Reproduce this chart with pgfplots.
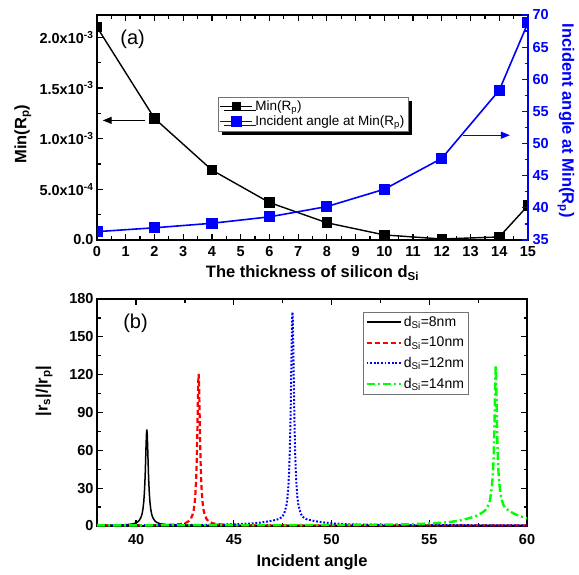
\documentclass[border=0pt]{standalone}
\usepackage{pgfplots}
\pgfplotsset{compat=1.18}
\usepackage{fontspec}
\setmainfont{Liberation Sans}
\usetikzlibrary{arrows.meta,shadows}
\definecolor{lgreen}{RGB}{0,255,0}

\begin{document}
\begin{tikzpicture}
\useasboundingbox (0pt,0pt) rectangle (579pt,574pt);
\pgfplotsset{
  every axis/.append style={
    scale only axis,
    tick align=inside,
    major tick length=6pt, minor tick length=3.5pt,
    tick label style={font=\fontsize{14.5}{14.5}\selectfont\bfseries},
    label style={font=\fontsize{16.5}{16.5}\selectfont\bfseries},
    /pgf/number format/assume math mode=true,
    axis line style={line width=1.7pt},
  }
}
% ---------- panel (a), left axis ----------
\begin{axis}[at={(97pt,334pt)}, anchor=south west, width=431pt, height=225pt,
  xmin=0, xmax=15, ymin=0, ymax=0.00222,
  xtick={0,1,...,15}, minor x tick num=1,
  ytick={0,0.0005,0.001,0.0015,0.002},
  yticklabels={0.0, 5.0x10\textsuperscript{-4}, 1.0x10\textsuperscript{-3}, 1.5x10\textsuperscript{-3}, 2.0x10\textsuperscript{-3}},
  minor y tick num=1, scaled y ticks=false,
  ytick pos=left, xtick pos=both, xticklabel pos=lower,
  xticklabel style={yshift=-3pt},
  every tick/.style={black, line width=1.2pt},
  clip marker paths=true,
  xlabel={The thickness of silicon d\textsubscript{Si}},
  ylabel={Min(R\textsubscript{p})},
  xlabel style={at={(axis description cs:0.5,-0.148)}, anchor=center},
  ylabel style={at={(axis description cs:-0.172,0.47)}, anchor=center},
]
\addplot[black, line width=1.4pt, mark=square*, mark size=4.6pt] coordinates {
 (0,0.00210) (2,0.00120) (4,0.00069) (6,0.00037) (8,0.00017) (10,0.00005) (12,0.00001) (14,0.00003) (15,0.00034)};
\draw[black, line width=1.2pt, -{Triangle[length=9pt,width=7pt]}] (axis cs:1.67,0.00118) -- (axis cs:0.2,0.00118);
\node[anchor=west, font=\fontsize{20}{20}\selectfont] at (rel axis cs:0.046,0.893) {(a)};
\end{axis}
% ---------- panel (a), right axis ----------
\begin{axis}[at={(97pt,334pt)}, anchor=south west, width=431pt, height=225pt,
  xmin=0, xmax=15, ymin=35, ymax=70,
  axis x line=none, axis y line*=right,
  y axis line style={blue, line width=2.6pt},
  every tick/.style={blue, line width=1.2pt},
  ytick={35,40,...,70}, minor y tick num=1,
  yticklabel style={blue, xshift=1pt},
  clip marker paths=true,
  ylabel={Incident angle at Min(R\textsubscript{p})},
  ylabel style={blue, rotate=180, at={(axis description cs:1.088,0.53)}, anchor=center},
  legend style={at={(0.2807,0.6356)}, anchor=north west, font=\fontsize{13.5}{13.5}\selectfont,
    draw=black!55, fill=white, inner sep=1.5pt, row sep=0pt,
    drop shadow={shadow xshift=4pt, shadow yshift=-4pt, fill=black, opacity=1}},
  legend cell align=left,
  legend image code/.code={\draw[mark repeat=2,mark phase=2,#1] plot coordinates {(0pt,0pt) (16pt,0pt) (32pt,0pt)};},
]
\addlegendimage{black, line width=1.4pt, mark=square*, mark size=3.5pt}
\addlegendentry{Min(R\textsubscript{p})}
\addplot[blue, line width=1.6pt, mark=square*, mark size=4.8pt] coordinates {
 (0,36.3) (2,36.9) (4,37.6) (6,38.6) (8,40.2) (10,42.9) (12,47.7) (14,58.3) (15,68.8)};
\addlegendentry{Incident angle at Min(R\textsubscript{p})}
\draw[blue, line width=1.2pt, -{Triangle[length=9pt,width=7pt]}] (axis cs:12.74,51.3) -- (axis cs:14.37,51.3);
\end{axis}
% ---------- panel (b) ----------
\begin{axis}[at={(97pt,48pt)}, anchor=south west, width=430pt, height=227pt,
  xmin=38, xmax=60, ymin=0, ymax=180,
  xtick={40,45,...,60}, minor x tick num=1,
  ytick={0,30,...,180}, minor y tick num=1,
  xtick pos=both, ytick pos=both, xticklabel pos=lower, yticklabel pos=left,
  xticklabel style={yshift=-5pt},
  every tick/.style={black, line width=1.2pt},
  xlabel={Incident angle},
  ylabel={|r\textsubscript{s}|/|r\textsubscript{p}|},
  xlabel style={at={(axis description cs:0.5,-0.158)}, anchor=center},
  ylabel style={at={(axis description cs:-0.123,0.595)}, anchor=center},
  legend style={at={(0.619,0.943)}, anchor=north west, font=\fontsize{14}{14}\selectfont,
    draw=black!55, fill=white, inner sep=2pt, row sep=5pt},
  legend cell align=left,
  legend image code/.code={\draw[#1] (0pt,0pt) -- (34pt,0pt);},
]
\addplot[black, line width=1.5pt] coordinates {
 (38,0.5) (38.05,0.6) (39.05,0.8) (39.55,1.1) (39.85,1.7) (40.05,2.9) (40.15,4.2) (40.25,6.8) (40.30,9.2) (40.35,13.3) (40.39,18.8) (40.42,25.1) (40.45,34.5) (40.47,43.0) (40.49,53.1) (40.51,64.0) (40.53,72.9) (40.55,76.5)
 (40.57,72.9) (40.59,64.0) (40.61,53.1) (40.63,43.0) (40.65,34.5) (40.68,25.1) (40.71,18.8) (40.75,13.3) (40.80,9.2) (40.85,6.8) (40.95,4.2) (41.05,2.9) (41.25,1.7) (41.55,1.1) (42.05,0.8) (43.05,0.6) (45,0.5) (50,0.5) (55,0.5) (60,0.5)};
\addlegendentry{d\textsubscript{Si}=8nm}
\addplot[red, line width=2.2pt, dash pattern=on 5pt off 3pt] coordinates {
 (38,0.5) (40.7,0.6) (41.7,0.9) (42.2,1.4) (42.5,2.2) (42.7,3.9) (42.8,5.7) (42.9,9.4) (42.95,12.9) (43.0,18.9) (43.04,26.9) (43.07,36.4) (43.1,50.8) (43.12,64.1) (43.14,80.6) (43.16,98.7) (43.18,114.2) (43.2,120.5)
 (43.22,114.2) (43.24,98.7) (43.26,80.6) (43.28,64.1) (43.3,50.8) (43.33,36.4) (43.36,26.9) (43.4,18.9) (43.45,12.9) (43.5,9.4) (43.6,5.7) (43.7,3.9) (43.9,2.2) (44.2,1.4) (44.7,0.9) (45.7,0.6) (48,0.5) (60,0.5)};
\addlegendentry{d\textsubscript{Si}=10nm}
\addplot[blue, line width=2pt, dash pattern=on 1.8pt off 1.8pt] coordinates {
 (38,0.5) (42,0.7) (44,1.0) (45,1.3) (46,2.1) (46.5,3.0) (47,4.3) (47.3,5.5) (47.5,7.5) (47.6,11) (47.7,16.9) (47.75,23.3) (47.8,33.8) (47.84,47.5) (47.87,62.8) (47.9,84.5) (47.92,103) (47.94,124.3) (47.96,145.7) (47.98,162.5) (48.0,169.5)
 (48.02,162.5) (48.04,145.7) (48.06,124.3) (48.08,103) (48.1,84.5) (48.13,62.8) (48.16,47.5) (48.2,33.8) (48.25,23.3) (48.3,16.9) (48.4,11) (48.5,7.5) (48.7,5.5) (49,4.3) (49.5,3.0) (50,2.1) (51,1.3) (52,1.0) (54,0.7) (60,0.5)};
\addlegendentry{d\textsubscript{Si}=12nm}
\addplot[lgreen, line width=2.4pt, dash pattern=on 8pt off 3pt on 2pt off 3pt] coordinates {
 (38,0.5) (48,0.7) (52,1.0) (54,1.4) (55,2.0) (56,3.0) (56.6,4.5) (57.0,6.0) (57.4,8.0) (57.7,10.5) (57.9,13) (58.0,16) (58.1,20) (58.15,25) (58.2,31) (58.24,38) (58.27,46) (58.3,58) (58.32,70) (58.34,85) (58.36,102) (58.38,118) (58.4,127.5)
 (58.42,118) (58.44,102) (58.46,85) (58.48,70) (58.5,58) (58.53,46) (58.56,38) (58.6,31) (58.65,25) (58.7,21) (58.8,16.5) (58.9,14) (59.1,12) (59.3,10) (59.6,8) (60,6)};
\addlegendentry{d\textsubscript{Si}=14nm}
\node[anchor=west, font=\fontsize{20}{20}\selectfont] at (rel axis cs:0.053,0.894) {(b)};
\end{axis}
\end{tikzpicture}
\end{document}
